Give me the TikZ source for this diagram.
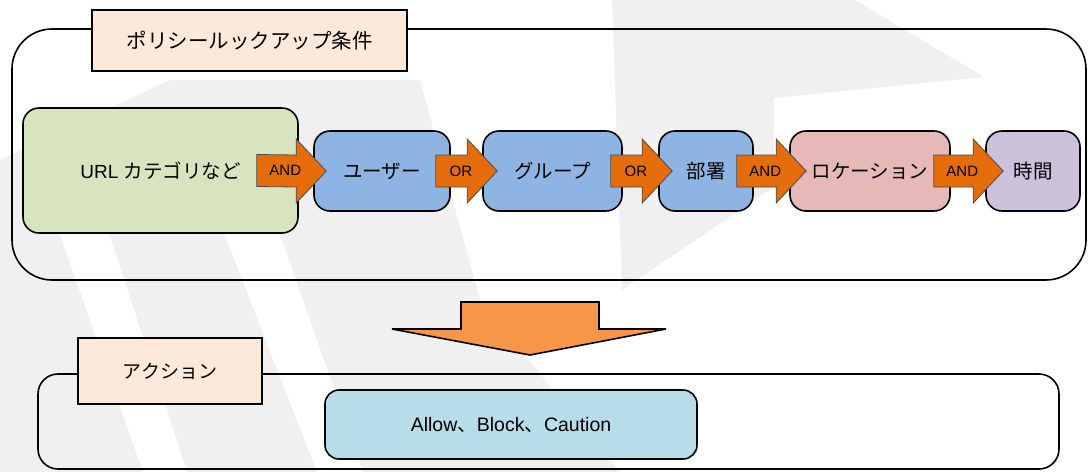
\documentclass[tikz,border=0pt]{standalone}
\usepackage{fontspec}
\setmainfont{Liberation Sans}
\newfontfamily\jp{Noto Sans CJK JP}
\usetikzlibrary{calc}
\definecolor{wmgray}{RGB}{240,240,240}
\definecolor{tagfill}{RGB}{253,233,217}
\definecolor{urlgreen}{RGB}{215,228,189}
\definecolor{condblue}{RGB}{142,180,227}
\definecolor{locpink}{RGB}{230,185,184}
\definecolor{timelilac}{RGB}{204,193,218}
\definecolor{oporange}{RGB}{228,108,10}
\definecolor{flowor}{RGB}{247,150,70}
\definecolor{actblue}{RGB}{183,221,232}

\begin{document}
\begin{tikzpicture}[
    x=1pt,y=-1pt,
    frame/.style={draw,line width=1.6pt},
    tag/.style={draw,line width=1.6pt,fill=tagfill,font=\jp\fontsize{20.5}{24}\selectfont},
    cond/.style={draw,line width=1.6pt,rounded corners=16pt,minimum height=80pt,
                 font=\jp\fontsize{19.5}{23}\selectfont},
    blockarr/.style={draw=black!70,line width=0.8pt,fill=oporange},
    oplabel/.style={font=\fontsize{15}{17}\selectfont,inner sep=0pt}
]
  \useasboundingbox (0,0) rectangle (1089,472);

  % Background mark
  \fill[wmgray] (612,0) -- (855,0) -- (984,77) -- (774,98) -- (774,187) -- (622,290) -- cycle;
  \fill[wmgray] (0,160) -- (170,80) -- (420,80) -- (480,300) -- (620,472) -- (0,472) -- cycle;
  \fill[white] (20,120) -- (72,120) -- (187,472) -- (143,472) -- cycle;
  \fill[white] (180,120) -- (240,120) -- (363,472) -- (317,472) -- cycle;

  % Lookup conditions
  \node[frame,rounded corners=40pt,minimum width=1074pt,minimum height=251pt] (policy) at (549,154.5) {};
  \node[tag,minimum width=315pt,minimum height=61pt] (ptitle) at (249.5,40.5) {ポリシールックアップ条件};

  \node[cond,fill=urlgreen,minimum width=275pt,minimum height=125pt] (url) at (160.5,170.5)
    {{\rmfamily\fontsize{19}{23}\selectfont URL }カテゴリなど};
  \node[cond,fill=condblue,minimum width=136pt] (user) at (382,171) {ユーザー};
  \node[cond,fill=condblue,minimum width=139pt] (group) at (552.5,171) {グループ};
  \node[cond,fill=condblue,minimum width=94pt] (dept) at (706,171) {部署};
  \node[cond,fill=locpink,minimum width=160pt] (loc) at (870,171) {ロケーション};
  \node[cond,fill=timelilac,minimum width=94pt] (time) at (1033,171) {時間};

  % Operators between conditions
  \foreach \a/\b/\op/\d/\e in {url/user/AND/42/13, user/group/OR/15/15,
                               group/dept/OR/12/14, dept/loc/AND/17/17, loc/time/AND/17/18}{
    \coordinate (tl) at ($(\a.east)+(-\d,0)$);
    \coordinate (tp) at ($(\b.west)+(\e,0)$);
    \draw[blockarr] ($(tl)+(0,-16)$) -- ($(tp)+(-30,-16)$) -- ($(tp)+(-30,-32)$) -- (tp)
      -- ($(tp)+(-30,32)$) -- ($(tp)+(-30,16)$) -- ($(tl)+(0,16)$) -- cycle;
    \node[oplabel] (op-\a) at ($(tl)!0.41!(tp)$) {\op};
  }

  % Result
  \coordinate (flow) at (530,302);
  \draw[line width=1.6pt,fill=flowor] ($(flow)+(-69,0)$) -- ($(flow)+(69,0)$) -- ($(flow)+(69,27)$)
    -- ($(flow)+(136,27)$) -- ($(flow)+(0,53)$) -- ($(flow)+(-138,27)$) -- ($(flow)+(-69,27)$) -- cycle;

  % Actions
  \node[frame,rounded corners=20pt,minimum width=1021pt,minimum height=95pt] (action) at (548.5,421.5) {};
  \node[tag,minimum width=184pt,minimum height=66pt,font=\jp\fontsize{19}{23}\selectfont] (atitle) at (170,371) {アクション};
  \node[draw,line width=1.6pt,rounded corners=14pt,fill=actblue,minimum width=372pt,minimum height=69pt,
        font=\fontsize{19.5}{23}\selectfont] (allow) at (511,424.5) {Allow{\jp 、}Block{\jp 、}Caution};
\end{tikzpicture}
\end{document}
